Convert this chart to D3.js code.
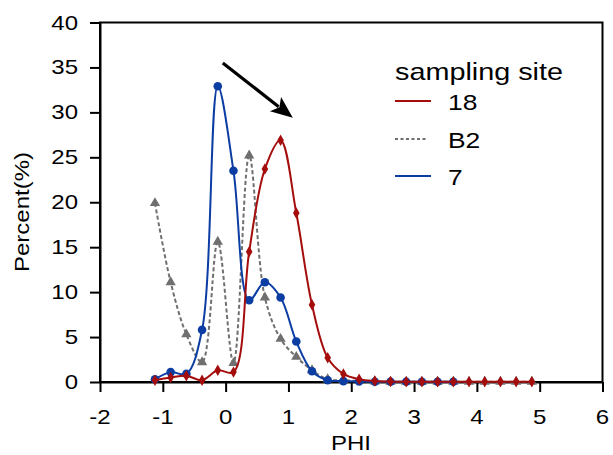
<!DOCTYPE html>
<html><head><meta charset="utf-8">
<script src="https://cdn.jsdelivr.net/npm/d3@7"></script>
<style>body{margin:0;background:#fff}svg{display:block}text{font-family:"Liberation Sans",Arial,sans-serif;fill:#000}</style>
</head><body><svg id="c" width="613" height="455"></svg>
<script>
const phi18 = [-1.125,-0.875,-0.625,-0.375,-0.125,0.125,0.375,0.625,0.875,1.125,1.375,1.625,1.875,2.125,2.375,2.625,2.875,3.125,3.375,3.625,3.875,4.125,4.375,4.625,4.875];
const site18 = [0.2,0.5,0.7,0.2,1.3,1.1,14.5,23.7,26.9,18.8,8.6,2.7,0.9,0.3,0.1,0.05,0.03,0.02,0.02,0.02,0.02,0.02,0.02,0.02,0.02];
const phiB2 = [-1.125,-0.875,-0.625,-0.375,-0.125,0.125,0.375,0.625,0.875,1.125,1.375,1.625,1.875,2.125,2.375,2.625,2.875,3.125,3.375,3.625,3.875,4.125,4.375,4.625,4.875];
const siteB2 = [19.9,11.1,5.3,2.2,15.6,2.1,25.2,9.4,4.8,2.8,1.3,0.3,0.2,0.1,0.05,0.03,0.02,0.02,0.02,0.02,0.02,0.02,0.02,0.02,0.02];
const phi7 = [-1.125,-0.875,-0.625,-0.375,-0.125,0.125,0.375,0.625,0.875,1.125,1.375,1.625,1.875,2.125,2.375,2.625,2.875,3.125,3.375,3.625];
const site7 = [0.3,1.1,0.9,5.8,32.9,23.5,9.1,11.1,9.4,4.5,1.2,0.2,0.1,0.05,0.03,0.02,0.02,0.02,0.02,0.02];
const xTicks = [-2,-1,0,1,2,3,4,5,6];
const yTicks = [0,5,10,15,20,25,30,35,40];
const legendTitle = "sampling site";
const seriesNames = ["18","B2","7"];
const arrowFrom = [-0.045, 35.5], arrowTo = [1.07, 29.4];

const SX = 1.2;
const svg = d3.select("#c");
const L=100,R=602.5,T=22.5,B=382;
const x = d3.scaleLinear().domain([-2,6]).range([L,R]);
const y = d3.scaleLinear().domain([0,40]).range([B,T]);

function stext(g, str, tx, ty, size, anchor){
  return g.append("text").attr("transform",`translate(${tx},${ty}) scale(${SX},1)`)
   .attr("text-anchor",anchor||"start").attr("font-size",size).text(str);
}

// frame
svg.append("rect").attr("x",L).attr("y",T).attr("width",R-L).attr("height",B-T)
  .attr("fill","none").attr("stroke","#000").attr("stroke-width",2);

// axes
const ax = svg.append("g").attr("transform",`translate(0,${B})`)
  .call(d3.axisBottom(x).tickValues(xTicks).tickSize(10).tickSizeOuter(0).tickFormat(""));
const ay = svg.append("g").attr("transform",`translate(${L},0)`)
  .call(d3.axisLeft(y).tickValues(yTicks).tickSize(10).tickSizeOuter(0).tickFormat(""));
[ax,ay].forEach(a=>{a.select(".domain").attr("stroke","#000").attr("stroke-width",2);
  a.selectAll(".tick line").attr("stroke","#000").attr("stroke-width",2);});
xTicks.forEach(v=>stext(svg, String(v), x(v), 424, 20, "middle"));
yTicks.forEach(v=>stext(svg, String(v), 78, y(v)+7, 20, "end"));

stext(svg,"PHI",351,450,20,"middle");
svg.append("text").attr("transform",`translate(29,212) rotate(-90) scale(${SX},1)`)
  .attr("text-anchor","middle").attr("font-size",20).text("Percent(%)");

const colors = {r:"#a50d0d", g:"#6f6f6f", b:"#0b3da3"};
const line = (xs)=>d3.line().x((d,i)=>x(xs[i])).y(d=>y(d)).curve(d3.curveCatmullRom.alpha(0.5));

const plot = svg.append("g");
function series(xs, ys, color, dash, sym, size){
  plot.append("path").attr("d", line(xs)(ys)).attr("fill","none").attr("stroke",color)
    .attr("stroke-width",2).attr("stroke-dasharray",dash||null);
  plot.selectAll(null).data(ys).enter().append("path")
    .attr("transform",(d,i)=>`translate(${x(xs[i])},${y(d)})`)
    .attr("d", d3.symbol().type(sym).size(size)).attr("fill",color);
}
series(phiB2, siteB2, colors.g, "4,2.5", d3.symbolTriangle, 46);
series(phi7, site7, colors.b, null, d3.symbolCircle, 58);
series(phi18, site18, colors.r, null, d3.symbolDiamond, 38);

// arrow
const ax0=x(arrowFrom[0]), ay0=y(arrowFrom[1]), ax1=x(arrowTo[0]), ay1=y(arrowTo[1]);
const ang=Math.atan2(ay1-ay0, ax1-ax0), hl=22, hw=9;
const bx=ax1-hl*Math.cos(ang), by=ay1-hl*Math.sin(ang);
svg.append("line").attr("x1",ax0).attr("y1",ay0).attr("x2",bx+4*Math.cos(ang)).attr("y2",by+4*Math.sin(ang))
  .attr("stroke","#000").attr("stroke-width",3.2);
svg.append("path").attr("d",`M${ax1},${ay1}L${bx-hw*Math.sin(ang)},${by+hw*Math.cos(ang)}L${bx+5*Math.cos(ang)},${by+5*Math.sin(ang)}L${bx+hw*Math.sin(ang)},${by-hw*Math.cos(ang)}Z`)
  .attr("fill","#000");

// legend
const lg = svg.append("g");
stext(lg, legendTitle, 395, 80, 24, "start");
const lc=[colors.r,colors.g,colors.b], ld=[null,"3,2.5",null], ly=[101,139,176];
seriesNames.forEach((n,i)=>{
  lg.append("line").attr("x1",395).attr("x2",i==1?428:431).attr("y1",ly[i]).attr("y2",ly[i])
    .attr("stroke",lc[i]).attr("stroke-width",2).attr("stroke-dasharray",ld[i]);
  stext(lg, n, 448, ly[i]+9, 22, "start");
});
</script></body></html>
